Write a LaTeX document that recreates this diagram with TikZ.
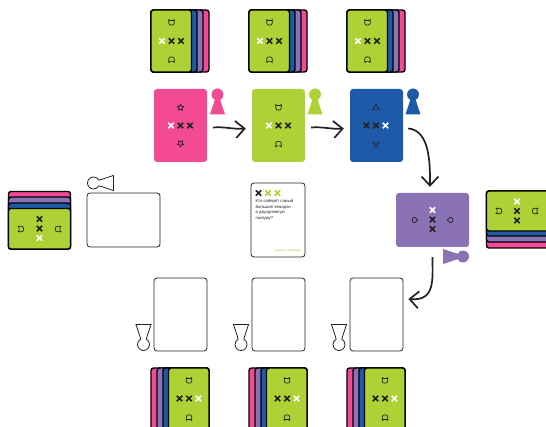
\documentclass[tikz,border=0pt]{standalone}
\usepackage{fontspec}
\setmainfont{Liberation Sans}
\usetikzlibrary{arrows.meta,shapes.misc,shapes.geometric}
\definecolor{cardpink}{HTML}{F34B93}
\definecolor{cardgreen}{HTML}{AED136}
\definecolor{cardblue}{HTML}{1F5AA8}
\definecolor{cardpurple}{HTML}{8A72B5}
\definecolor{inkline}{HTML}{222222}
\tikzset{
	colorcard/.style={rectangle, rounded corners=3pt, inner sep=0pt, minimum width=53pt, minimum height=73pt},
	blankcard/.style={colorcard, draw=inkline, fill=white, line width=.8pt},
	layer/.style={draw=black, line width=1.4pt, rounded corners=2.5pt},
	xmark/.style={cross out, draw=inkline, line width=1.6pt, inner sep=0pt, minimum size=3.8pt},
	iconline/.style={draw=inkline, line width=.7pt, line join=round},
	flow/.style={draw=inkline, line width=1.7pt, -{Straight Barb[length=9pt,width=17pt,line width=1.7pt]}},
	pawnline/.style={draw=inkline, fill=white, line width=.8pt},
	pawnfill/.style={fill=#1},
	pics/crossline/.style n args={3}{code={
		\node[xmark, draw=#1] (-a) at (-9.5,0) {};
		\node[xmark, draw=#2] (-b) at (0,0) {};
		\node[xmark, draw=#3] (-c) at (9.5,0) {};
	}},
	pics/caticon/.style={code={
		\path[iconline] (-2.8,-3) -- (-1.4,-1.9) -- (1.4,-1.9) -- (2.8,-3) -- (2.8,.6)
			.. controls (2.8,3.4) and (-2.8,3.4) .. (-2.8,.6) -- cycle;
	}},
	pics/petalicon/.style={code={
		\path[iconline] (0,-3.6) -- (2.8,-.8) .. controls (3,2.8) and (-3,2.8) .. (-2.8,-.8) -- cycle;
	}},
	pics/pawn/.style={code={
		\path[#1] (-7.5,0) -- (7.5,0) .. controls (6,-5) and (4,-10) .. (2.8,-14.7)
			.. controls (4.8,-15.6) and (6,-17.7) .. (6,-20)
			.. controls (6,-23.3) and (3.3,-26) .. (0,-26)
			.. controls (-3.3,-26) and (-6,-23.3) .. (-6,-20)
			.. controls (-6,-17.7) and (-4.8,-15.6) .. (-2.8,-14.7)
			.. controls (-4,-10) and (-6,-5) .. (-7.5,0) -- cycle;
	}},
	pics/topstack/.style={code={
		\path[layer, fill=cardpink] (0,0) rectangle (58,62);
		\path[layer, fill=cardpurple] (0,0) rectangle (52,62);
		\path[layer, fill=cardblue] (0,0) rectangle (46,62);
		\path[layer, fill=cardgreen] (0,0) rectangle (40.5,62);
		\pic (-x) at (20.5,31) {crossline={white}{inkline}{inkline}};
		\pic at (20.5,12.5) {caticon};
		\pic[rotate=180] at (20.5,49.5) {caticon};
	}},
	pics/bottomstack/.style={code={
		\path[layer, fill=cardpink] (0,0) rectangle (58,62);
		\path[layer, fill=cardpurple] (6,0) rectangle (58,62);
		\path[layer, fill=cardblue] (12,0) rectangle (58,62);
		\path[layer, fill=cardgreen] (17.5,0) rectangle (58,62);
		\pic (-x) at (38,30.5) {crossline={inkline}{inkline}{white}};
		\pic at (38,12.5) {caticon};
		\pic[rotate=180] at (38,49.5) {caticon};
	}}
}

\begin{document}
\begin{tikzpicture}[x=1pt,y=-1pt]
	\clip (0,0) rectangle (546,427);

	% stacks
	\foreach \n/\x in {1/151,2/249,3/347} {
		\pic (topdeck\n) at (\x,10) {topstack};
		\pic (bottomdeck\n) at (\x,368) {bottomstack};
	}
	\path[layer, fill=cardpink] (8.5,191.5) rectangle (70.5,249);
	\path[layer, fill=cardpurple] (8.5,197) rectangle (70.5,249);
	\path[layer, fill=cardblue] (8.5,203) rectangle (70.5,249);
	\path[layer, fill=cardgreen] (8.5,208.5) rectangle (70.5,249);
	\pic (leftmarks) [rotate=90] at (39.5,228.5) {crossline={white}{inkline}{inkline}};
	\pic[rotate=90] at (21,229) {caticon};
	\pic[rotate=-90] at (58,229) {caticon};

	\path[layer, fill=cardpink] (486.5,191) rectangle (570,248);
	\path[layer, fill=cardpurple] (486.5,191) rectangle (570,242);
	\path[layer, fill=cardblue] (486.5,191) rectangle (570,236);
	\path[layer, fill=cardgreen] (486.5,191) rectangle (570,231);
	\pic (rightmarks) [rotate=-90] at (517,211) {crossline={white}{inkline}{inkline}};
	\pic[rotate=90] at (499,211) {caticon};
	\pic[rotate=-90] at (535,211) {caticon};

	% played cards
	\node[colorcard, fill=cardpink] (pinkcard) at (180.5,125.5) {};
	\node[colorcard, fill=cardgreen] (greencard) at (278.5,125.5) {};
	\node[colorcard, fill=cardblue] (bluecard) at (376.5,125.5) {};
	\node[colorcard, fill=cardpurple, minimum width=73pt, minimum height=54pt] (purplecard) at (432.5,220) {};

	\pic (pinkmarks) at (180.5,125.5) {crossline={white}{inkline}{inkline}};
	\pic (greenmarks) at (278.5,125.5) {crossline={white}{inkline}{inkline}};
	\pic (bluemarks) at (376,125.5) {crossline={inkline}{inkline}{white}};
	\pic (purplemarks) [rotate=-90] at (432.5,219.5) {crossline={white}{inkline}{inkline}};

	\node[star, star points=5, star point ratio=2.2, iconline, inner sep=0pt, minimum size=7pt] (pinkstar1) at (180.5,107.5) {};
	\node[star, star points=5, star point ratio=2.2, iconline, inner sep=0pt, minimum size=7pt, rotate=180] (pinkstar2) at (180.5,143.5) {};
	\pic at (278.5,107.5) {caticon};
	\pic[rotate=180] at (278.5,144) {caticon};
	\node[regular polygon, regular polygon sides=3, iconline, inner sep=0pt, minimum size=7.5pt] (bluetri1) at (376,108) {};
	\node[regular polygon, regular polygon sides=3, iconline, inner sep=0pt, minimum size=7.5pt, rotate=180] (bluetri2) at (376,144) {};
	\pic[rotate=-90] at (414,220) {petalicon};
	\pic[rotate=90] at (451,220) {petalicon};

	% empty cards
	\node[blankcard, minimum width=73pt, minimum height=54pt] (leftcard) at (123.5,220) {};
	\node[blankcard] (slot1) at (180.5,314.5) {};
	\node[blankcard] (slot2) at (278.5,314.5) {};
	\node[blankcard] (slot3) at (376.5,314.5) {};

	% question card
	\node[blankcard, minimum width=54pt, minimum height=74pt] (questioncard) at (278,220) {};
	\pic (questionmarks) at (268,193) {crossline={inkline}{cardgreen}{cardgreen}};
	\node[anchor=north west, inner sep=0pt, align=left, font=\fontsize{4.2}{5.5}\selectfont, text=inkline]
		(questiontext) at (255.5,199.5) {Кто соберёт самый\\большой чемодан\\в двухдневную\\поездку?};
	\node[anchor=east, inner sep=0pt, font=\fontsize{3}{3}\selectfont, text=cardgreen]
		(questionfoot) at (301.5,251) {вопросы компании};

	% pawns
	\pic at (217.5,114.5) {pawn={pawnfill=cardpink}};
	\pic at (315,114.5) {pawn={pawnfill=cardgreen}};
	\pic at (413,114.5) {pawn={pawnfill=cardblue}};
	\pic[rotate=-90] at (443,256.5) {pawn={pawnfill=cardpurple}};
	\pic[rotate=90] at (113.5,183) {pawn=pawnline};
	\pic[rotate=180] at (143.5,324.5) {pawn=pawnline};
	\pic[rotate=180] at (241,324.5) {pawn=pawnline};
	\pic[rotate=180] at (339,324.5) {pawn=pawnline};

	% turn order
	\draw[flow, shorten <=6pt, shorten >=6pt] ([yshift=-2.5pt]pinkcard.east) to[out=5,in=185] ([yshift=-2.5pt]greencard.west);
	\draw[flow, shorten <=6pt, shorten >=6pt] ([yshift=-2.5pt]greencard.east) to[out=5,in=185] ([yshift=-2.5pt]bluecard.west);
	\draw[flow, shorten <=5pt, shorten >=6pt] ([yshift=-2.5pt]bluecard.east) to[out=-5,in=90,looseness=1] ([xshift=-2.5pt]purplecard.north);
	\draw[flow, shorten <=10pt, shorten >=5pt] (purplecard.south) to[out=-90,in=-5,looseness=1.4] ([yshift=16pt]slot3.east);
\end{tikzpicture}
\end{document}
